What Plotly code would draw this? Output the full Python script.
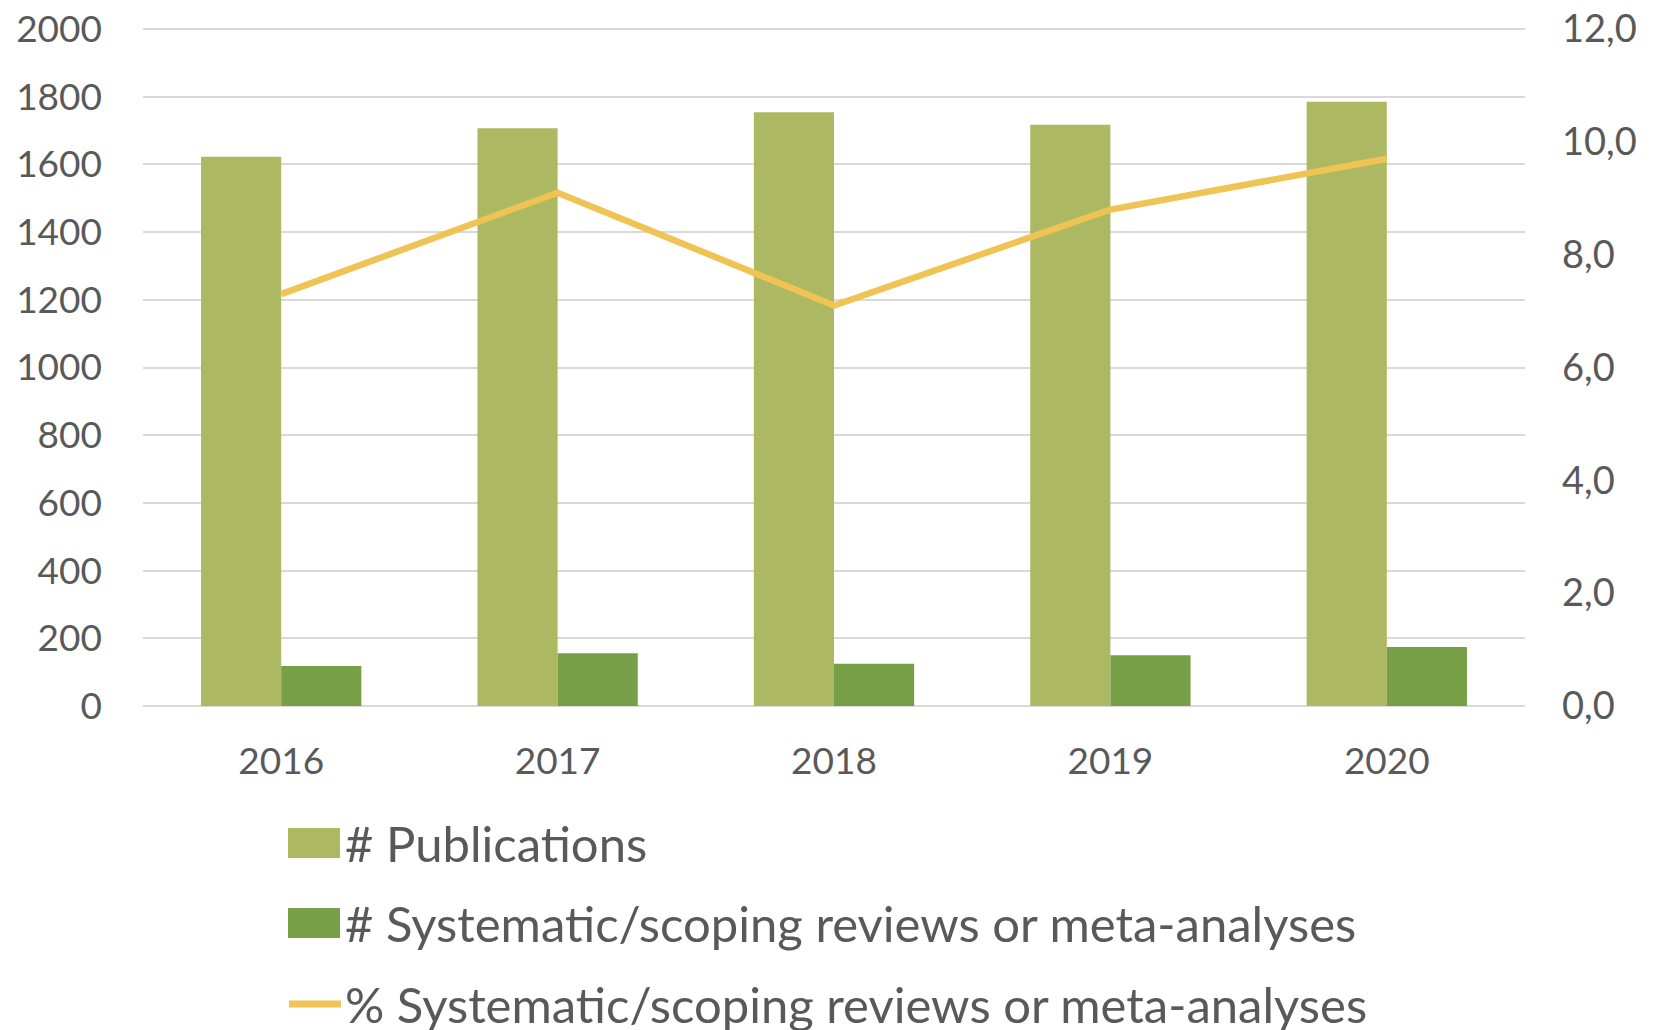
import plotly.graph_objects as go

years = ["2016", "2017", "2018", "2019", "2020"]
publications = [1623, 1707, 1754, 1717, 1785]
reviews = [118, 156, 125, 150, 174]
review_pct = [7.3, 9.1, 7.1, 8.8, 9.7]

label_pub = "# Publications"
label_rev = "# Systematic/scoping reviews or meta-analyses"
label_pct = "% Systematic/scoping reviews or meta-analyses"

FONT = "Lato, 'Open Sans', sans-serif"
TXT = "#595959"
C_PUB = "#adb862"
C_REV = "#77a046"
C_PCT = "#f0c454"

W, H = 1657, 1030
M_L, M_R, M_T, M_B = 143, 132, 28, 324


def px_x(x):
    return (x - M_L) / (W - M_L - M_R)


def px_y(y):
    return (H - M_B - y) / (H - M_T - M_B)


fig = go.Figure()
fig.add_trace(go.Bar(x=years, y=publications, name=label_pub, marker_color=C_PUB,
                     marker_line_width=0, offsetgroup="a"))
fig.add_trace(go.Bar(x=years, y=reviews, name=label_rev, marker_color=C_REV,
                     marker_line_width=0, offsetgroup="b"))
fig.add_trace(go.Scatter(x=years, y=review_pct, name=label_pct, mode="lines",
                         line=dict(color=C_PCT, width=6.5), yaxis="y2"))

# hand-made legend so the swatches can be as large as in the original
legend_rows = [
    (label_pub, "bar", C_PUB, 843),
    (label_rev, "bar", C_REV, 923),
    (label_pct, "line", C_PCT, 1004),
]
for text, kind, color, yc in legend_rows:
    if kind == "bar":
        fig.add_shape(type="rect", xref="paper", yref="paper",
                      x0=px_x(288), x1=px_x(340), y0=px_y(yc - 15), y1=px_y(yc + 15),
                      fillcolor=color, line_width=0)
    else:
        fig.add_shape(type="line", xref="paper", yref="paper",
                      x0=px_x(289), x1=px_x(341), y0=px_y(yc), y1=px_y(yc),
                      line=dict(color=color, width=7))
    fig.add_annotation(x=px_x(343), y=px_y(yc), xref="paper", yref="paper",
                       text=text, showarrow=False, xanchor="left", yanchor="middle",
                       font=dict(family=FONT, size=49, color=TXT))

fig.update_layout(
    width=W, height=H,
    margin=dict(l=M_L, r=M_R, t=M_T, b=M_B, autoexpand=False),
    paper_bgcolor="white", plot_bgcolor="white",
    separators=",.",
    barmode="group", bargap=0.42, bargroupgap=0,
    showlegend=False,
    font=dict(family=FONT, size=37, color=TXT),
    xaxis=dict(type="category", showgrid=False, ticks="", ticklabelstandoff=30,
               automargin=False, tickfont=dict(size=37, color=TXT), showline=False),
    yaxis=dict(range=[0, 2003], tickvals=list(range(0, 2001, 200)), tickformat="d",
               showgrid=True, gridcolor="#d9d9d9", gridwidth=1.5, zeroline=True,
               zerolinecolor="#d9d9d9", zerolinewidth=1.5, ticks="", ticklabelstandoff=40,
               automargin=False, tickfont=dict(size=37, color=TXT)),
    yaxis2=dict(range=[0, 12 * 2003 / 2000], tickvals=[0, 2, 4, 6, 8, 10, 12], tickformat=".1f",
                overlaying="y", side="right", showgrid=False, zeroline=False, ticks="",
                ticklabelstandoff=36, automargin=False, tickfont=dict(size=38, color=TXT)),
)

fig.write_html(
    "out.html",
    config={"displayModeBar": False},
    post_script="document.body.style.margin='0';document.body.style.overflow='hidden';",
)
